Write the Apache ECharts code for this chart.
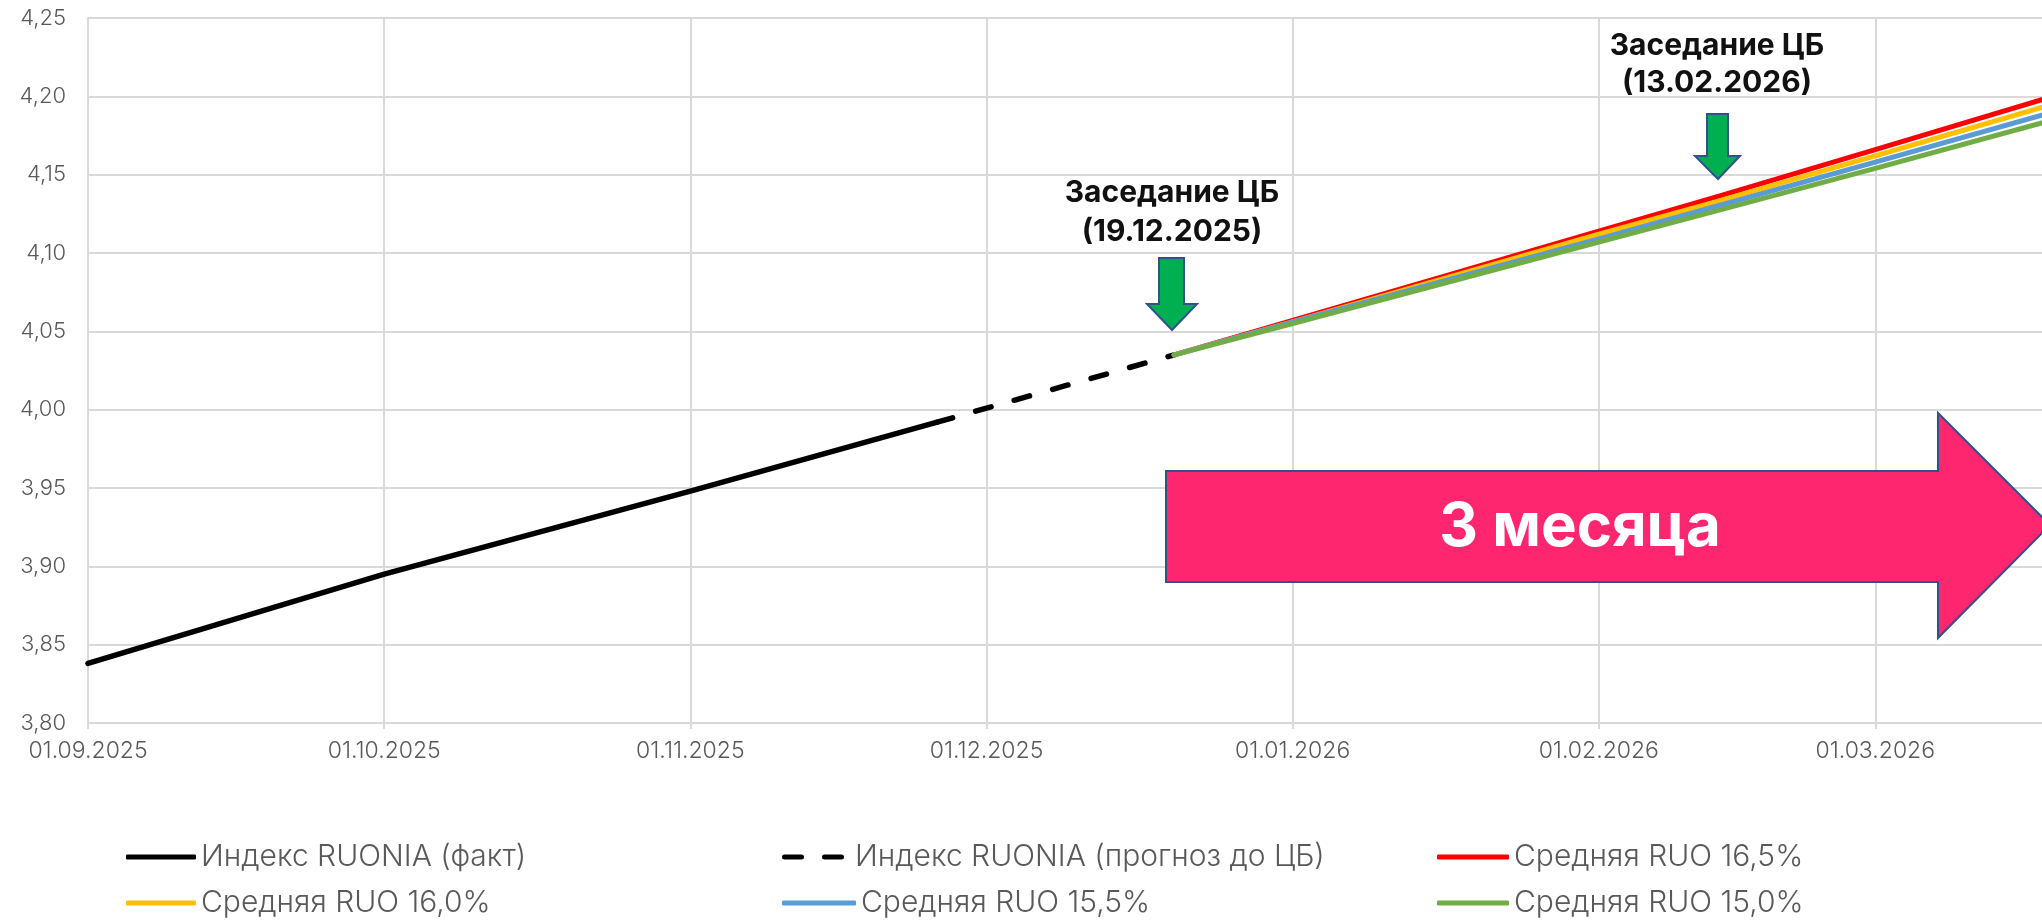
<!DOCTYPE html>
<html><head><meta charset="utf-8">
<script src="https://cdn.jsdelivr.net/npm/echarts@6/dist/echarts.min.js"></script>
<style>html,body{margin:0;padding:0;background:#fff}#c{width:2042px;height:920px}</style>
</head><body><div id="c"></div>
<script>
// ---- data ----
const factDates = ['2025-09-01', '2025-10-01', '2025-11-01', '2025-11-26'];
const factValues = [3.838, 3.895, 3.948, 3.992];
const preDates = ['2025-11-26', '2025-12-01', '2025-12-20'];
const preValues = [3.992, 4.001, 4.035];
const fcDates = ['2025-12-20', '2026-01-01', '2026-02-01', '2026-02-13', '2026-03-01', '2026-03-19'];
const ruo165 = [4.035, 4.057, 4.114, 4.136, 4.166, 4.200];
const ruo160 = [4.035, 4.056, 4.112, 4.133, 4.162, 4.195];
const ruo155 = [4.035, 4.056, 4.109, 4.130, 4.158, 4.190];
const ruo150 = [4.035, 4.055, 4.107, 4.127, 4.154, 4.185];
const seriesNames = ['Индекс RUONIA (факт)', 'Индекс RUONIA (прогноз до ЦБ)', 'Средняя RUO 16,5%', 'Средняя RUO 16,0%', 'Средняя RUO 15,5%', 'Средняя RUO 15,0%'];
const yTicks = {min: 3.8, max: 4.25, step: 0.05};
const xRange = ['2025-09-01', '2026-03-19'];
const meetings = [{title: 'Заседание ЦБ', date: '(19.12.2025)'}, {title: 'Заседание ЦБ', date: '(13.02.2026)'}];
const periodLabel = '3 месяца';

// ---- chart ----
const FONT = 'Inter, "Noto Sans", sans-serif';
const GREY = '#595959';
const GRID = '#d9d9d9';
const zip = (d, v) => d.map((x, i) => [x, v[i]]);
const pad = n => (n < 10 ? '0' : '') + n;
const parseD = s => { const p = s.split('-'); return new Date(+p[0], +p[1] - 1, +p[2]).getTime(); };

const chart = echarts.init(document.getElementById('c'), null, {renderer: 'canvas'});

function lineSeries(name, data, color, width, extraLine) {
  return {
    name, type: 'line', data, symbol: 'none', showSymbol: false,
    lineStyle: Object.assign({color, width, cap: 'round', join: 'round'}, extraLine || {}),
    itemStyle: {color},
    emphasis: {disabled: true}, silent: true, animation: false
  };
}

const SOLID_ICON = 'roundRect';
const DASH_ICON = 'path://M2.5,0h17a2.5,2.5 0 0 1 0,5h-17a2.5,2.5 0 0 1 0,-5z M42.5,0h17a2.5,2.5 0 0 1 0,5h-17a2.5,2.5 0 0 1 0,-5z';
function legendItem(name, left, top, icon, w) {
  return {
    left, top, padding: 0, orient: 'horizontal', itemWidth: w, itemHeight: 5,
    selectedMode: false,
    textStyle: {fontSize: 30, color: GREY, fontFamily: FONT, fontWeight: 300},
    data: [{name, icon}]
  };
}
const COLS = [126, 782, 1437];
const ROWS = [842, 888];

const option = {
  backgroundColor: '#fff',
  animation: false,
  grid: {left: 88, right: -11, top: 18, bottom: 197, containLabel: false, outerBoundsMode: 'none'},
  xAxis: {
    type: 'time', min: parseD(xRange[0]), max: parseD(xRange[1]),
    minInterval: 28 * 864e5, maxInterval: 31 * 864e5,
    axisLine: {show: true, lineStyle: {color: GRID, width: 2}},
    axisTick: {show: true, length: 6, lineStyle: {color: GRID, width: 2}},
    splitLine: {show: true, lineStyle: {color: GRID, width: 2}},
    axisLabel: {
      color: GREY, fontSize: 23, fontFamily: FONT, fontWeight: 300, margin: 17,
      showMaxLabel: false, hideOverlap: false,
      rich: {d: {fontSize: 23, color: GREY, fontFamily: FONT, fontWeight: 300}},
      formatter: v => { const d = new Date(v); return '{d|' + pad(d.getDate()) + '.' + pad(d.getMonth() + 1) + '.' + d.getFullYear() + '}'; }
    }
  },
  yAxis: {
    type: 'value', min: yTicks.min, max: yTicks.max, interval: yTicks.step,
    axisLine: {show: true, lineStyle: {color: GRID, width: 2}},
    axisTick: {show: false},
    splitLine: {show: true, lineStyle: {color: GRID, width: 2}},
    axisLabel: {color: GREY, fontSize: 22, fontFamily: FONT, fontWeight: 300, margin: 22,
      formatter: v => v.toFixed(2).replace('.', ',')}
  },
  legend: [
    legendItem(seriesNames[0], COLS[0], ROWS[0], SOLID_ICON, 70),
    legendItem(seriesNames[1], COLS[1], ROWS[0], DASH_ICON, 74),
    legendItem(seriesNames[2], COLS[2], ROWS[0], SOLID_ICON, 72),
    legendItem(seriesNames[3], COLS[0], ROWS[1], SOLID_ICON, 70),
    legendItem(seriesNames[4], COLS[1], ROWS[1], SOLID_ICON, 74),
    legendItem(seriesNames[5], COLS[2], ROWS[1], SOLID_ICON, 72)
  ],
  series: [
    lineSeries(seriesNames[0], zip(factDates, factValues), '#000000', 5.5),
    lineSeries(seriesNames[1], zip(preDates, preValues), '#000000', 5.5, {type: [16, 24]}),
    lineSeries(seriesNames[2], zip(fcDates, ruo165), '#FF0000', 5),
    lineSeries(seriesNames[3], zip(fcDates, ruo160), '#FFC000', 5),
    lineSeries(seriesNames[4], zip(fcDates, ruo155), '#5B9BD5', 5),
    lineSeries(seriesNames[5], zip(fcDates, ruo150), '#70AD47', 5)
  ],
  graphic: [
    {type: 'polygon', z: 50, shape: {points: [[1166, 471], [1938, 471], [1938, 413], [2050, 525], [1938, 638], [1938, 582], [1166, 582]]},
      style: {fill: '#FF2670', stroke: '#2F528F', lineWidth: 2}},
    {type: 'text', z: 51, x: 1580, y: 528, style: {text: periodLabel, fill: '#fff', fontSize: 60, fontWeight: 700, fontFamily: FONT, align: 'center', verticalAlign: 'middle'}},
    {type: 'polygon', z: 50, shape: {points: [[1159, 258], [1184, 258], [1184, 304], [1197, 304], [1172, 330], [1147, 304], [1159, 304]]},
      style: {fill: '#00B050', stroke: '#2F528F', lineWidth: 2}},
    {type: 'polygon', z: 50, shape: {points: [[1707, 114], [1728, 114], [1728, 156], [1740, 156], [1718, 179], [1695, 156], [1707, 156]]},
      style: {fill: '#00B050', stroke: '#2F528F', lineWidth: 2}},
    {type: 'text', z: 51, x: 1172, y: 193, style: {text: meetings[0].title, fill: '#111', fontSize: 30, fontWeight: 700, fontFamily: FONT, align: 'center', verticalAlign: 'middle'}},
    {type: 'text', z: 51, x: 1172, y: 232, style: {text: meetings[0].date, fill: '#111', fontSize: 30, fontWeight: 700, fontFamily: FONT, align: 'center', verticalAlign: 'middle'}},
    {type: 'text', z: 51, x: 1717, y: 46, style: {text: meetings[1].title, fill: '#111', fontSize: 30, fontWeight: 700, fontFamily: FONT, align: 'center', verticalAlign: 'middle'}},
    {type: 'text', z: 51, x: 1717, y: 83, style: {text: meetings[1].date, fill: '#111', fontSize: 30, fontWeight: 700, fontFamily: FONT, align: 'center', verticalAlign: 'middle'}}
  ]
};
chart.setOption(option);
</script>
</body></html>
